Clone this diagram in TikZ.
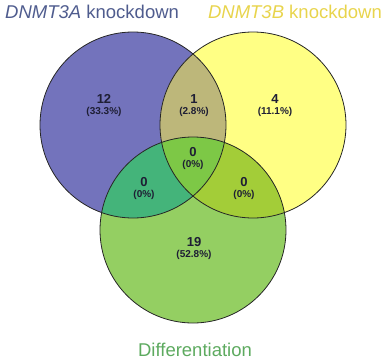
\documentclass[tikz,border=0pt]{standalone}
\usepackage{fontspec}
\setmainfont{Liberation Sans}
\usepackage{tikz}
\usetikzlibrary{positioning}
\definecolor{knockA}{HTML}{7373BC}
\definecolor{knockB}{HTML}{FFFF84}
\definecolor{diffC}{HTML}{94CF62}
\definecolor{overAB}{HTML}{BDB77A}
\definecolor{overAC}{HTML}{44B47A}
\definecolor{overBC}{HTML}{A3CD38}
\definecolor{overABC}{HTML}{7DC846}
\definecolor{titleA}{HTML}{4F5C8E}
\definecolor{titleB}{HTML}{E8D44C}
\definecolor{titleC}{HTML}{5DAA5F}
\definecolor{numtext}{HTML}{1E1E34}
\tikzset{setline/.style={draw=black!85,line width=0.8pt}, count/.style={font=\fontsize{13}{13}\selectfont\bfseries,text=numtext,inner sep=0pt}, share/.style={font=\fontsize{10}{10}\selectfont\bfseries,text=numtext,inner sep=0pt}, settitle/.style={font=\fontsize{18.5}{19}\selectfont,inner sep=0pt}}

\begin{document}
\begin{tikzpicture}[x=1pt,y=-1pt]
\useasboundingbox (0,0) rectangle (388,362);
\coordinate (cA) at (133,125);
\coordinate (cB) at (253,125);
\coordinate (cC) at (193,230);
% single sets
\fill[knockA] (cA) circle[radius=93pt];
\fill[knockB] (cB) circle[radius=93pt];
\fill[diffC] (cC) circle[radius=93pt];
% overlaps
\begin{scope}
\clip (cA) circle[radius=93pt];
\fill[overAB] (cB) circle[radius=93pt];
\fill[overAC] (cC) circle[radius=93pt];
\end{scope}
\begin{scope}
\clip (cB) circle[radius=93pt];
\fill[overBC] (cC) circle[radius=93pt];
\end{scope}
\begin{scope}
\clip (cA) circle[radius=93pt];
\clip (cB) circle[radius=93pt];
\fill[overABC] (cC) circle[radius=93pt];
\end{scope}
\draw[setline] (cA) circle[radius=93pt];
\draw[setline] (cB) circle[radius=93pt];
\draw[setline] (cC) circle[radius=93pt];
% counts
\node[count] (nA) at (104,99) {12};
\node[share] (pA) at (104,112) {(33.3\%)};
\node[count] (nAB) at (194,99) {1};
\node[share] (pAB) at (194,112) {(2.8\%)};
\node[count] (nB) at (275,99) {4};
\node[share] (pB) at (275,112) {(11.1\%)};
\node[count] (nABC) at (193,152) {0};
\node[share] (pABC) at (193,165) {(0\%)};
\node[count] (nAC) at (144,182) {0};
\node[share] (pAC) at (144,195) {(0\%)};
\node[count] (nBC) at (244,182) {0};
\node[share] (pBC) at (244,195) {(0\%)};
\node[count] (nC) at (194,242) {19};
\node[share] (pC) at (194,255) {(52.8\%)};
% titles
\node[settitle,text=titleA,anchor=west] (tA) at (5,12) {\textit{DNMT3A} knockdown};
\node[settitle,text=titleB,anchor=east] (tB) at (382,12) {\textit{DNMT3B} knockdown};
\node[settitle,text=titleC] (tC) at (195,350) {Differentiation};
\end{tikzpicture}
\end{document}
